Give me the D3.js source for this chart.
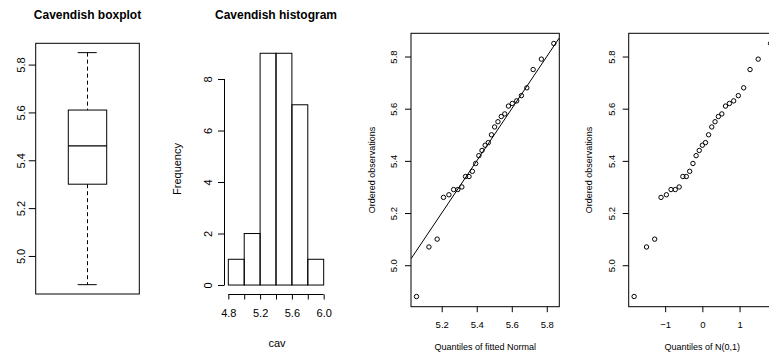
<!DOCTYPE html>
<html>
<head>
<meta charset="utf-8">
<script src="https://cdn.jsdelivr.net/npm/d3@7"></script>
<style>
  body { margin: 0; background: #fff; }
  svg { display: block; font-family: "Liberation Sans", Arial, Helvetica, sans-serif; }
  .axis text { fill: #000; }
  .axis line { stroke: #000; }
</style>
</head>
<body>
<svg id="chart" width="769" height="353"></svg>
<script>
// Cavendish density measurements
const cav = [5.50, 5.61, 4.88, 5.07, 5.26, 5.55, 5.36, 5.29, 5.58, 5.65, 5.57, 5.53, 5.62, 5.29, 5.44,
  5.34, 5.79, 5.10, 5.27, 5.39, 5.42, 5.47, 5.63, 5.34, 5.46, 5.30, 5.75, 5.68, 5.85];

const histBreaks = [4.8, 5.0, 5.2, 5.4, 5.6, 5.8, 6.0];
const histCounts = [1, 2, 9, 9, 7, 1];
const histXTicks = [4.8, 5.0, 5.2, 5.4, 5.6, 5.8, 6.0];
const histXLabels = ['4.8', '', '5.2', '', '5.6', '', '6.0'];
const histYTicks = [0, 2, 4, 6, 8];

const obsTicks = [5.0, 5.2, 5.4, 5.6, 5.8];
const fittedTicks = [5.2, 5.4, 5.6, 5.8];
const normTicks = [-1, 0, 1];

const normQuantiles = [-1.834, -1.501, -1.282, -1.111, -0.967, -0.842, -0.728, -0.623, -0.524, -0.431,
  -0.341, -0.253, -0.168, -0.084, 0, 0.084, 0.168, 0.253, 0.341, 0.431, 0.524, 0.623, 0.728, 0.842,
  0.967, 1.111, 1.282, 1.501, 1.834];
const fittedQuantiles = [5.056, 5.127, 5.174, 5.210, 5.241, 5.268, 5.292, 5.315, 5.336, 5.356, 5.375,
  5.394, 5.412, 5.430, 5.448, 5.466, 5.484, 5.502, 5.521, 5.540, 5.560, 5.581, 5.603, 5.628, 5.655,
  5.686, 5.722, 5.769, 5.840];

const svg = d3.select('#chart');
const ordered = d3.sort(cav);
const fmt1 = d3.format('.1f');
const obsDomain = [4.841, 5.889];

function rotateYLabels(g, off, size) {
  g.select('.domain').remove();
  g.selectAll('text')
    .attr('transform', 'rotate(-90)')
    .attr('x', 0)
    .attr('y', -off)
    .attr('dy', null)
    .attr('text-anchor', 'middle')
    .attr('font-size', size);
}

function placeXLabels(g, off, size) {
  g.select('.domain').remove();
  g.selectAll('text')
    .attr('y', off)
    .attr('dy', null)
    .attr('font-size', size);
}

function frame(x0, x1, y0, y1) {
  svg.append('rect')
    .attr('x', x0).attr('y', y0)
    .attr('width', x1 - x0).attr('height', y1 - y0)
    .attr('fill', 'none').attr('stroke', '#000');
}

// ---- panel 1: boxplot
{
  const y = d3.scaleLinear().domain(obsDomain).range([294, 43.3]);
  const q1 = d3.quantile(ordered, 0.25);
  const med = d3.median(ordered);
  const q3 = d3.quantile(ordered, 0.75);
  const lo = d3.min(ordered);
  const hi = d3.max(ordered);
  const cx = 87.5;

  svg.append('text').attr('x', cx).attr('y', 19).attr('text-anchor', 'middle')
    .attr('font-size', 12).attr('font-weight', 'bold').text('Cavendish boxplot');

  const g = svg.append('g');
  g.append('line').attr('x1', cx).attr('x2', cx).attr('y1', y(hi)).attr('y2', y(q3))
    .attr('stroke', '#000').attr('stroke-dasharray', '4 3');
  g.append('line').attr('x1', cx).attr('x2', cx).attr('y1', y(q1)).attr('y2', y(lo))
    .attr('stroke', '#000').attr('stroke-dasharray', '4 3');
  [lo, hi].forEach((v) => {
    g.append('line').attr('x1', 77.7).attr('x2', 96.7).attr('y1', y(v)).attr('y2', y(v))
      .attr('stroke', '#000');
  });
  g.append('rect').attr('x', 68.3).attr('width', 38.4)
    .attr('y', y(q3)).attr('height', y(q1) - y(q3))
    .attr('fill', 'none').attr('stroke', '#000');
  g.append('line').attr('x1', 68.3).attr('x2', 106.7).attr('y1', y(med)).attr('y2', y(med))
    .attr('stroke', '#000').attr('stroke-width', 1.1);

  frame(35.7, 139.3, 43.3, 294);
  svg.append('g').attr('class', 'axis').attr('transform', 'translate(35.7,0)')
    .call(d3.axisLeft(y).tickValues(obsTicks).tickSize(7).tickFormat(fmt1))
    .call((a) => rotateYLabels(a, 11, 11));
}

// ---- panel 2: histogram
{
  const x = d3.scaleLinear().domain([4.752, 6.048]).range([224.5, 327.5]);
  const y = d3.scaleLinear().domain([-0.36, 9.36]).range([294.3, 44]);
  const bars = histCounts.map((c, i) => ({ x0: histBreaks[i], x1: histBreaks[i + 1], c }));

  svg.append('text').attr('x', 276).attr('y', 19).attr('text-anchor', 'middle')
    .attr('font-size', 12).attr('font-weight', 'bold').text('Cavendish histogram');

  svg.append('g').selectAll('rect').data(bars).join('rect')
    .attr('x', (d) => x(d.x0))
    .attr('width', (d) => x(d.x1) - x(d.x0))
    .attr('y', (d) => y(d.c))
    .attr('height', (d) => y(0) - y(d.c))
    .attr('fill', 'none')
    .attr('stroke', '#000');

  const ya = svg.append('g').attr('class', 'axis').attr('transform', 'translate(224.5,0)')
    .call(d3.axisLeft(y).tickValues(histYTicks).tickSize(6.5))
    .call((a) => rotateYLabels(a, 12.5, 11));
  ya.append('line').attr('y1', y(0)).attr('y2', y(8)).attr('stroke', '#000');

  const xa = svg.append('g').attr('class', 'axis').attr('transform', 'translate(0,294.5)')
    .call(d3.axisBottom(x).tickValues(histXTicks).tickSize(5)
      .tickFormat((d, i) => histXLabels[i]))
    .call((a) => placeXLabels(a, 22.5, 11));
  xa.append('line').attr('x1', x(4.8)).attr('x2', x(6.0)).attr('stroke', '#000');

  svg.append('text').attr('x', 277).attr('y', 346.5).attr('text-anchor', 'middle')
    .attr('font-size', 11).text('cav');
  svg.append('text').attr('transform', 'translate(180.8,169) rotate(-90)')
    .attr('text-anchor', 'middle').attr('font-size', 11).text('Frequency');
}

// ---- panels 3 and 4: QQ plots
function qqPanel(opts) {
  const x = d3.scaleLinear().domain(opts.xDomain).range(opts.xRange);
  const y = d3.scaleLinear().domain(obsDomain).range([306.7, 33.3]);
  const pts = ordered.map((v, i) => ({ q: opts.quantiles[i], v }));
  const clipId = `clip-${opts.id}`;

  svg.append('clipPath').attr('id', clipId).append('rect')
    .attr('x', opts.xRange[0]).attr('y', 33.3)
    .attr('width', opts.xRange[1] - opts.xRange[0]).attr('height', 306.7 - 33.3);

  const plot = svg.append('g').attr('clip-path', `url(#${clipId})`);
  if (opts.identity) {
    plot.append('line')
      .attr('x1', x(opts.xDomain[0])).attr('y1', y(opts.xDomain[0]))
      .attr('x2', x(opts.xDomain[1])).attr('y2', y(opts.xDomain[1]))
      .attr('stroke', '#000');
  }
  plot.selectAll('circle').data(pts).join('circle')
    .attr('cx', (d) => x(d.q))
    .attr('cy', (d) => y(d.v))
    .attr('r', 2.2)
    .attr('fill', 'none')
    .attr('stroke', '#000');

  frame(opts.xRange[0], opts.xRange[1], 33.3, 306.7);

  svg.append('g').attr('class', 'axis').attr('transform', `translate(${opts.xRange[0]},0)`)
    .call(d3.axisLeft(y).tickValues(obsTicks).tickSize(6).tickFormat(fmt1))
    .call((a) => rotateYLabels(a, 14, 9.5));
  svg.append('g').attr('class', 'axis').attr('transform', 'translate(0,306.7)')
    .call(d3.axisBottom(x).tickValues(opts.xTicks).tickSize(5.5).tickFormat(opts.xFormat))
    .call((a) => placeXLabels(a, 21.6, 9.5));

  svg.append('text').attr('x', x(opts.titleAt)).attr('y', 350).attr('text-anchor', 'middle')
    .attr('font-size', 9).text(opts.xLabel);
  svg.append('text').attr('transform', `translate(${opts.xRange[0] - 36.5},170) rotate(-90)`)
    .attr('text-anchor', 'middle').attr('font-size', 9).text('Ordered observations');
}

qqPanel({
  id: 'fit',
  xDomain: [5.0246, 5.8714],
  xRange: [411, 559.3],
  quantiles: fittedQuantiles,
  xTicks: fittedTicks,
  xFormat: fmt1,
  xLabel: 'Quantiles of fitted Normal',
  titleAt: 5.448,
  identity: true,
});

qqPanel({
  id: 'norm',
  xDomain: [-1.98, 1.98],
  xRange: [628.7, 776],
  quantiles: normQuantiles,
  xTicks: normTicks,
  xFormat: (d) => (d < 0 ? `\u2212${Math.abs(d)}` : `${d}`),
  xLabel: 'Quantiles of N(0,1)',
  titleAt: 0,
  identity: false,
});
</script>
</body>
</html>
